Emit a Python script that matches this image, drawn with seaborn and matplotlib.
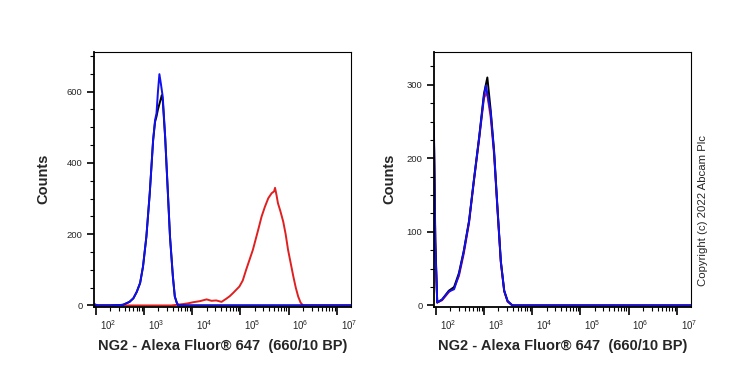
import numpy as np
import matplotlib
matplotlib.use('Agg')
import matplotlib.pyplot as plt
import matplotlib.transforms as mtransforms
from matplotlib.ticker import FixedLocator, LogLocator, MultipleLocator, NullFormatter
import seaborn as sns

# --- dane (x w dekadach log10, y = Counts) ---
# panel lewy
left_blue_log = [1.96, 2.0, 2.05, 2.3, 2.5, 2.57, 2.7, 2.78, 2.85, 2.92, 2.98, 3.05, 3.12, 3.19, 3.23,
                 3.26, 3.29, 3.32, 3.35, 3.39, 3.44, 3.49, 3.54, 3.60, 3.64, 3.68, 3.71, 3.8, 5.0, 7.3]
left_blue = [5, 2, 0, 0, 1, 2, 10, 20, 38, 63, 109, 193, 315, 464, 520,
             539, 600, 649, 623, 585, 473, 333, 193, 81, 25, 8, 0, 0, 0, 0]
left_black_log = [1.96, 2.3, 2.5, 2.57, 2.7, 2.78, 2.85, 2.92, 2.98, 3.05, 3.12, 3.19, 3.23,
                  3.26, 3.29, 3.32, 3.35, 3.37, 3.39, 3.44, 3.49, 3.54, 3.60, 3.64, 3.68, 3.71, 3.8, 7.3]
left_black = [0, 0, 1, 2, 10, 20, 38, 63, 109, 193, 315, 464, 515,
              530, 550, 565, 580, 590, 575, 470, 333, 193, 81, 25, 8, 0, 0, 0]
left_red_log = [1.96, 3.4, 3.57, 3.7, 3.82, 3.92, 4.02, 4.16, 4.30, 4.40, 4.50, 4.61, 4.71, 4.78, 4.85,
                4.98, 5.05, 5.12, 5.19, 5.26, 5.37, 5.44, 5.51, 5.58, 5.65, 5.70, 5.72, 5.75, 5.78,
                5.83, 5.89, 5.94, 5.99, 6.05, 6.10, 6.15, 6.20, 6.25, 6.30, 7.3]
left_red = [0, 0, 0, 2, 4, 6, 9, 12, 17, 13, 14, 10, 19, 26, 35,
            53, 70, 100, 128, 156, 212, 249, 277, 301, 315, 320, 330, 310, 287,
            265, 235, 200, 156, 115, 81, 50, 25, 8, 0, 0]

# panel prawy
right_black_log = [1.96, 1.99, 2.03, 2.13, 2.27, 2.38, 2.48, 2.58, 2.69, 2.79, 2.90, 3.00, 3.07,
                   3.14, 3.21, 3.28, 3.35, 3.42, 3.49, 3.59, 7.3]
right_black = [247, 90, 4, 8, 20, 25, 44, 74, 115, 170, 229, 288, 310, 265, 210, 133, 60, 20, 6, 0, 0]
right_blue_log = [1.96, 1.99, 2.03, 2.13, 2.27, 2.38, 2.48, 2.58, 2.69, 2.79, 2.90, 3.00, 3.04,
                  3.14, 3.21, 3.28, 3.35, 3.42, 3.49, 3.59, 7.3]
right_blue = [240, 80, 4, 8, 19, 22, 42, 73, 114, 170, 228, 285, 299, 262, 208, 132, 60, 20, 6, 0, 0]
right_red_log = [1.96, 1.99, 2.03, 2.13, 2.27, 2.38, 2.48, 2.58, 2.69, 2.79, 2.90, 3.00, 3.06,
                 3.14, 3.21, 3.28, 3.35, 3.42, 3.49, 3.59, 7.3]
right_red = [235, 85, 4, 7, 18, 24, 40, 70, 112, 168, 226, 282, 290, 255, 205, 130, 58, 19, 5, 0, 0]

decades = [2, 3, 4, 5, 6, 7]
xlabel = 'NG2 - Alexa Fluor® 647  (660/10 BP)'

sns.set_style('ticks')
plt.rcParams['font.family'] = ['Liberation Sans', 'DejaVu Sans']
plt.rcParams['mathtext.fontset'] = 'custom'
plt.rcParams['mathtext.rm'] = 'Liberation Sans'
plt.rcParams['mathtext.it'] = 'Liberation Sans'

RED = '#e02020'
BLUE = '#1010f0'
BLACK = '#000000'

fig = plt.figure(figsize=(7.39, 3.70), dpi=100)
ax1 = fig.add_axes([94 / 739, 1 - 306.7 / 370, 256.7 / 739, 255 / 370])
ax2 = fig.add_axes([434 / 739, 1 - 306.7 / 370, 256.7 / 739, 255 / 370])


def draw(ax, series, ymax, ymajor, yminor, ylab_x):
    for logs, vals, col in series:
        sns.lineplot(x=10 ** np.array(logs), y=vals, color=col, lw=1.4, ax=ax,
                     sort=False, estimator=None)
    ax.set_xscale('log')
    ax.set_xlim(10 ** 1.963, 10 ** 7.29)
    ax.set_ylim(-ymax * 0.005, ymax)
    ax.xaxis.set_major_locator(FixedLocator([10.0 ** d for d in decades]))
    ax.xaxis.set_minor_locator(LogLocator(base=10, subs=np.arange(2, 10), numticks=20))
    ax.xaxis.set_major_formatter(NullFormatter())
    ax.xaxis.set_minor_formatter(NullFormatter())
    ax.yaxis.set_major_locator(MultipleLocator(ymajor))
    ax.yaxis.set_minor_locator(MultipleLocator(yminor))
    ax.tick_params(which='major', length=5.5, width=1.2, labelsize=6.8, pad=3, color='black')
    ax.tick_params(which='minor', length=3.0, width=0.8, color='black')
    ax.tick_params(axis='y', which='major', length=5.3)
    for side in ['left', 'bottom']:
        ax.spines[side].set_linewidth(1.3)
    for side in ['top', 'right']:
        ax.spines[side].set_linewidth(0.8)
    for s in ax.spines.values():
        s.set_color('black')
    # etykiety dekad przesuniete w prawo od kreski (jak w FlowJo)
    off = mtransforms.ScaledTranslation(12 / 100, -18 / 100, fig.dpi_scale_trans)
    trans = ax.get_xaxis_transform() + off
    for d in decades:
        ax.text(10.0 ** d, 0, '$10^{%d}$' % d, transform=trans, ha='center', va='center', fontsize=7)
    ax.set_xlabel(xlabel, fontsize=10.5, fontweight='bold')
    ax.xaxis.set_label_coords(0.5, -0.127)
    ax.set_ylabel('Counts', fontsize=10.5, fontweight='bold')
    ax.yaxis.set_label_coords(ylab_x, 0.5)


draw(ax1, [(left_red_log, left_red, RED), (left_black_log, left_black, BLACK),
           (left_blue_log, left_blue, BLUE)], 712, 200, 50, -0.171)
draw(ax2, [(right_red_log, right_red, RED), (right_black_log, right_black, BLACK),
           (right_blue_log, right_blue, BLUE)], 345, 100, 25, -0.148)

fig.text(703 / 739, 1 - 210 / 370, 'Copyright (c) 2022 Abcam Plc', rotation=90,
         ha='center', va='center', fontsize=8.2)

fig.savefig('out.png', dpi=100)
